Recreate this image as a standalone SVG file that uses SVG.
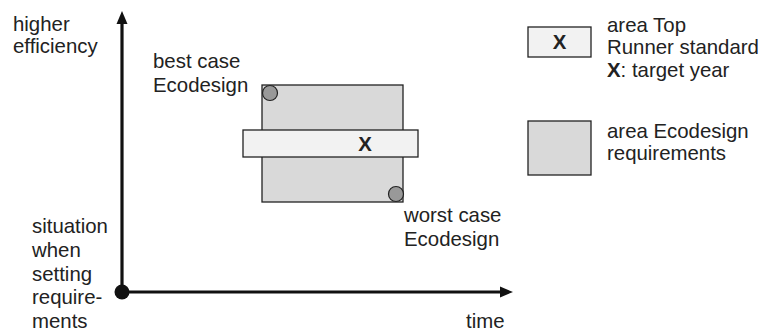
<svg xmlns="http://www.w3.org/2000/svg" width="774" height="333" viewBox="0 0 774 333">
<style>
text{font-family:"Liberation Sans",Arial,sans-serif;font-size:20.4px;fill:#222}
.b{font-weight:bold}
.top{fill:#f2f2f2;stroke:#222;stroke-width:1.3}
.eco{fill:#d9d9d9;stroke:#222;stroke-width:1.3}
.pt{fill:#999;stroke:#222;stroke-width:1.2}
.ax{stroke:#111;stroke-width:3.2;fill:none}
</style>
<rect width="774" height="333" fill="#fff"/>
<g id="axes">
<line class="ax" x1="122" y1="292" x2="122" y2="22"/>
<polygon points="122,11 116.5,24 127.5,24" fill="#111"/>
<line class="ax" x1="122" y1="292" x2="502" y2="292"/>
<polygon points="513,292 500,286.5 500,297.5" fill="#111"/>
<circle cx="122" cy="292" r="7.5" fill="#111"/>
<text x="13" y="31">higher</text>
<text x="13" y="53">efficiency</text>
<text x="466" y="328">time</text>
<text x="32" y="233">situation</text>
<text x="32" y="257">when</text>
<text x="32" y="281">setting</text>
<text x="32" y="304">require-</text>
<text x="32" y="328">ments</text>
</g>
<g id="ecodesign-area">
<rect class="eco" x="262" y="85" width="141" height="117"/>
</g>
<g id="top-runner-area">
<rect class="top" x="243" y="130" width="175" height="27"/>
<text class="b" x="365" y="151" text-anchor="middle">X</text>
</g>
<g id="best-case">
<circle class="pt" cx="270" cy="93" r="7.5"/>
<text x="153" y="68">best case</text>
<text x="153" y="92">Ecodesign</text>
</g>
<g id="worst-case">
<circle class="pt" cx="396" cy="194" r="7.5"/>
<text x="404" y="222">worst case</text>
<text x="404" y="246">Ecodesign</text>
</g>
<g id="legend-top-runner">
<rect class="top" x="528" y="27" width="63" height="30"/>
<text class="b" x="559.5" y="49" text-anchor="middle">X</text>
<text x="607" y="32">area Top</text>
<text x="607" y="54">Runner standard</text>
<text x="607" y="77"><tspan class="b">X</tspan>: target year</text>
</g>
<g id="legend-ecodesign">
<rect class="eco" x="528" y="121" width="63" height="54"/>
<text x="607" y="138">area Ecodesign</text>
<text x="607" y="160">requirements</text>
</g>
</svg>
